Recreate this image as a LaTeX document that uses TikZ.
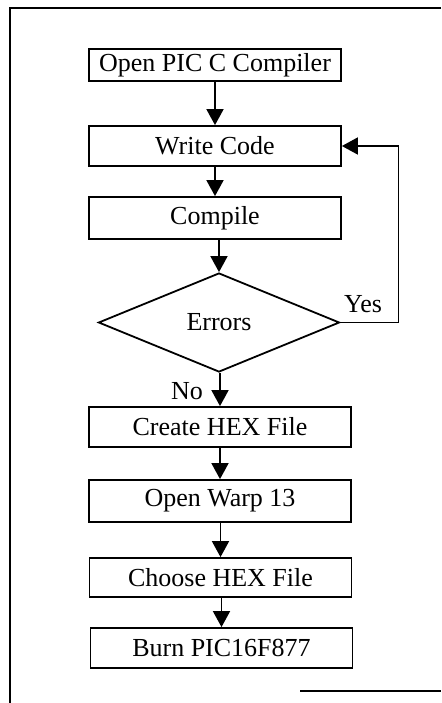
\documentclass[tikz,border=0pt]{standalone}
\usepackage{fontspec}
\setmainfont{Liberation Serif}
\usepackage{tikz}
\usetikzlibrary{arrows.meta, shapes.geometric}

\begin{document}
\begin{tikzpicture}[x=0.5pt, y=-0.5pt, font=\fontsize{13}{15}\selectfont,
    box/.style={draw, line width=0.9pt, minimum width=126pt, minimum height=20pt, inner sep=0pt},
    decision/.style={draw, diamond, line width=0.9pt, aspect=2.4, inner sep=0pt, minimum width=120.5pt, minimum height=49.5pt},
    arr/.style={-{Triangle[length=8pt, width=8.5pt]}, line width=0.9pt}]
    \useasboundingbox (0,0) rectangle (441,703);
    \draw[line width=0.9pt] (441,8) -- (10,8) -- (10,703);
    \draw[line width=0.9pt] (300,691) -- (441,691);

    \node[box, minimum height=16pt] (open) at (215,65) {Open PIC C Compiler};
    \node[box] (write) at (215,146) {Write Code};
    \node[box, minimum height=21pt] (comp) at (215,218) {Compile};
    \node[decision] (err) at (219,322.5) {Errors};
    \def\bw{131pt}
    \node[box, minimum width=\bw] (hex) at (220,427) {Create HEX File};
    \node[box, minimum width=\bw, minimum height=21pt] (warp) at (220,501) {Open Warp 13};
    \node[box, minimum width=\bw, minimum height=19.5pt] (choose) at (220.5,577.5) {Choose HEX File};
    \node[box, minimum width=\bw] (burn) at (221.5,648) {Burn PIC16F877};

    \foreach \a/\b in {open/write, write/comp, comp/err, err/hex, hex/warp, warp/choose, choose/burn} {
        \draw[arr] (\b.north |- \a.south) -- (\b.north);
    }
    \draw[arr] (err.east) -- ++(58,0) |- (write.east);
    \node (yes) at (363,304) {Yes};
    \node (no) at (187,391) {No};
\end{tikzpicture}
\end{document}
